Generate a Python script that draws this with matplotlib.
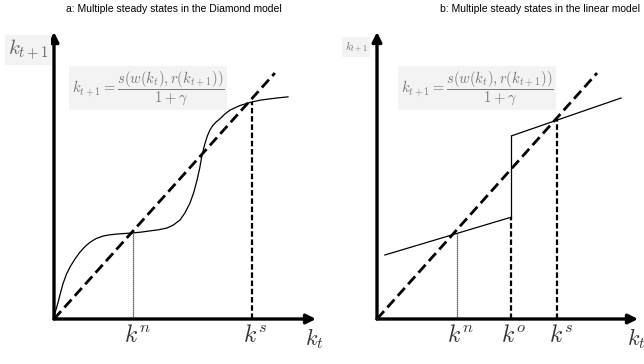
import matplotlib
matplotlib.use("Agg")
import matplotlib.pyplot as plt

plt.rcParams['mathtext.fontset'] = 'cm'
plt.rcParams['font.family'] = ['Liberation Sans', 'DejaVu Sans']

# ---- data (panel a: Diamond model) ----
a_curve_x = [0.0, 0.05, 0.15, 0.25, 0.34, 0.47, 0.61, 0.80, 0.99, 1.18, 1.37, 1.60, 1.87,
             2.10, 2.40, 2.70, 3.02, 3.35, 3.66, 4.00, 4.31, 4.55, 4.81, 5.00, 5.19, 5.33,
             5.46, 5.56, 5.65, 5.75, 5.85, 5.95, 6.05, 6.18, 6.34, 6.52, 6.72, 7.10, 7.54,
             7.90, 8.24, 8.60, 8.93]
a_curve_y = [0.0, 0.25, 0.56, 0.92, 1.22, 1.55, 1.81, 2.09, 2.33, 2.52, 2.67, 2.80, 2.89,
             2.93, 2.96, 2.98, 3.00, 3.03, 3.07, 3.11, 3.17, 3.27, 3.45, 3.70, 4.04, 4.40,
             4.84, 5.25, 5.71, 6.08, 6.37, 6.58, 6.73, 6.86, 6.98, 7.14, 7.28, 7.44, 7.56,
             7.63, 7.67, 7.71, 7.74]
a_diag_x = [0.0, 8.43]
a_diag_y = [0.0, 8.57]
a_kn = 3.02
a_kn_y = 3.00
a_ks = 7.54
a_ks_y = 7.56

# ---- data (panel b: linear model) ----
b_low_x = [0.30, 5.15]
b_low_y = [2.23, 3.55]
b_up_x = [5.15, 9.35]
b_up_y = [6.38, 7.70]
b_diag_x = [0.0, 8.43]
b_diag_y = [0.0, 8.57]
b_kn = 3.05
b_kn_y = 3.00
b_ko = 5.15
b_ko_low = 3.55
b_ko_up = 6.38
b_ks = 6.90
b_ks_y = 7.00

titles = ["a: Multiple steady states in the Diamond model",
          "b: Multiple steady states in the linear model"]
formula = r"$k_{t+1} = \dfrac{s(w(k_t), r(k_{t+1}))}{1+\gamma}$"

W, H = 644, 364
fig = plt.figure(figsize=(W / 100, H / 100), dpi=100)

def px_axes(x0, y0, x1, y1):
    return fig.add_axes([x0 / W, 1 - y1 / H, (x1 - x0) / W, (y1 - y0) / H])

def ftext(x, y, s, **kw):
    fig.text(x / W, 1 - y / H, s, **kw)

axA = px_axes(54, 32, 316, 319)
axB = px_axes(377, 32, 638, 319)
for ax in (axA, axB):
    ax.set_xlim(0, 10)
    ax.set_ylim(0, 10)
    ax.axis('off')
    ax.patch.set_alpha(0)
    arr = dict(arrowstyle='-|>', lw=2.4, color='black', mutation_scale=14,
               shrinkA=0, shrinkB=0)
    ax.annotate('', xy=(10, 0), xytext=(0, 0), arrowprops=arr, annotation_clip=False)
    ax.annotate('', xy=(0, 10), xytext=(0, 0), arrowprops=arr, annotation_clip=False)

# panel a
axA.plot(a_diag_x, a_diag_y, color='black', lw=2.0, ls=(0, (3.8, 1.8)), clip_on=False)
axA.plot(a_curve_x, a_curve_y, color='black', lw=0.9, clip_on=False,
         solid_joinstyle='round')
axA.plot([a_kn, a_kn], [0, a_kn_y], color='#333333', lw=0.9, ls=(0, (1, 0.6)))
axA.plot([a_ks, a_ks], [0, a_ks_y], color='black', lw=1.6, ls=(0, (2.5, 1.2)))

# panel b
axB.plot(b_diag_x, b_diag_y, color='black', lw=2.0, ls=(0, (3.8, 1.8)), clip_on=False)
axB.plot(b_low_x, b_low_y, color='black', lw=0.9)
axB.plot(b_up_x, b_up_y, color='black', lw=0.9)
axB.plot([b_ko, b_ko], [b_ko_low, b_ko_up], color='black', lw=0.9)
axB.plot([b_kn, b_kn], [0, b_kn_y], color='#333333', lw=0.9, ls=(0, (1, 0.6)))
axB.plot([b_ko, b_ko], [0, b_ko_low], color='black', lw=1.6, ls=(0, (2.5, 1.2)))
axB.plot([b_ks, b_ks], [0, b_ks_y], color='black', lw=1.6, ls=(0, (2.5, 1.2)))

# titles
ftext(174, 9, titles[0], fontsize=7.5, ha='center', va='center', color='black')
ftext(640, 9, titles[1], fontsize=7.5, ha='right', va='center', color='black')

box = dict(facecolor='#f3f3f3', edgecolor='none', pad=2)
lab_col = '#333333'

# y-axis labels
ftext(28, 50, r"$k_{t+1}$", fontsize=15, ha='center', va='center', color='#666666', bbox=box)
ftext(356, 47, r"$k_{t+1}$", fontsize=8, ha='center', va='center', color='#777777', bbox=box)

# formulas
ftext(148, 88, formula, fontsize=10.5, ha='center', va='center', color='#7a7a7a', bbox=box)
ftext(477, 88, formula, fontsize=10.5, ha='center', va='center', color='#7a7a7a', bbox=box)

# x-axis tick labels
ftext(137, 336, r"$k^n$", fontsize=17, ha='center', va='center', color=lab_col)
ftext(255, 336, r"$k^s$", fontsize=17, ha='center', va='center', color=lab_col)
ftext(314, 339, r"$k_t$", fontsize=16, ha='center', va='center', color=lab_col)
ftext(460, 336, r"$k^n$", fontsize=17, ha='center', va='center', color=lab_col)
ftext(514, 336, r"$k^o$", fontsize=17, ha='center', va='center', color=lab_col)
ftext(561, 336, r"$k^s$", fontsize=17, ha='center', va='center', color=lab_col)
ftext(636, 339, r"$k_t$", fontsize=16, ha='center', va='center', color=lab_col)

fig.savefig("out.png", dpi=100)
